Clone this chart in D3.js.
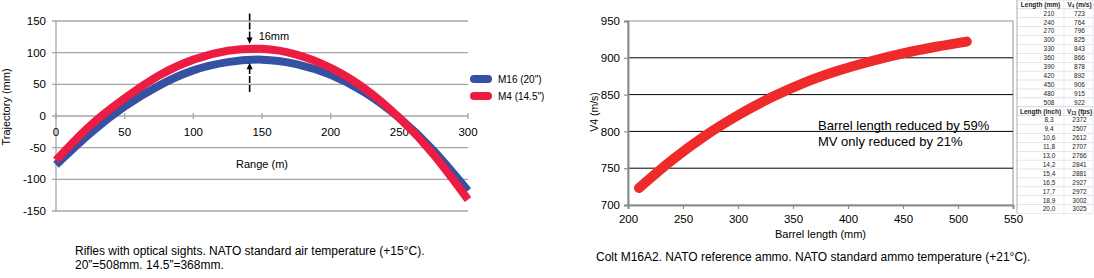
<!DOCTYPE html>
<html>
<head>
<meta charset="utf-8">
<script src="https://cdn.jsdelivr.net/npm/d3@7"></script>
<style>
  body { margin: 0; background: #fff; }
  svg { font-family: Arial, "Liberation Sans", sans-serif; display: block; }
</style>
</head>
<body>
<div id="chart"></div>
<script>
// trajectory data (left chart)
const rangeM = [0, 25, 50, 75, 100, 125, 150, 175, 200, 225, 250, 275, 300];
const m16Traj = [-77, -27, 15, 48, 72, 85, 89, 82, 65, 37, -3, -55, -118];
const m4Traj = [-70, -15, 28, 64, 89, 103, 106, 97, 76, 43, -3, -61, -132];
const trajTicksY = [150, 100, 50, 0, -50, -100, -150];
const trajTicksX = [0, 50, 100, 150, 200, 250, 300];
const seriesNames = ['M16 (20")', 'M4 (14.5")'];

// muzzle velocity table (right side)
const barrelMm = [210, 240, 270, 300, 330, 360, 390, 420, 450, 480, 508];
const v4 = [723, 764, 796, 825, 843, 866, 878, 892, 906, 915, 922];
const barrelInch = ['8,3', '9,4', '10,6', '11,8', '13,0', '14,2', '15,4', '16,5', '17,7', '18,9', '20,0'];
const v13fps = [2372, 2507, 2612, 2707, 2766, 2841, 2881, 2927, 2972, 3002, 3025];
// the plotted (smoothed) velocity curve
const curveV4 = [723, 761, 794, 822, 846, 866, 882, 895, 906, 915, 922];
const velTicksY = [950, 900, 850, 800, 750, 700];
const velTicksX = [200, 250, 300, 350, 400, 450, 500, 550];

const W = 1094, H = 278;
const svg = d3.select('#chart').append('svg')
	.attr('width', W)
	.attr('height', H);

const blue = '#3451a3';
const red = '#ed1c42';

// ---------- left chart ----------
const xL = d3.scaleLinear().domain([0, 300]).range([56, 468]);
const yL = d3.scaleLinear().domain([-150, 150]).range([211, 21]);

const left = svg.append('g');

left.selectAll('.gridL')
	.data(trajTicksY)
	.enter().append('line')
	.attr('x1', 52).attr('x2', xL(300))
	.attr('y1', d => yL(d)).attr('y2', d => yL(d))
	.style('stroke', '#a6a6a6')
	.style('stroke-width', 1.3);

left.append('line')
	.attr('x1', xL(0)).attr('x2', xL(0))
	.attr('y1', yL(150)).attr('y2', yL(-150))
	.style('stroke', '#a6a6a6')
	.style('stroke-width', 1.3);

left.selectAll('.tickL')
	.data(trajTicksX)
	.enter().append('line')
	.attr('x1', d => xL(d)).attr('x2', d => xL(d))
	.attr('y1', yL(0) - 3).attr('y2', yL(0) + 3)
	.style('stroke', '#a6a6a6')
	.style('stroke-width', 1.3);

left.selectAll('.ylab')
	.data(trajTicksY)
	.enter().append('text')
	.attr('x', 46)
	.attr('y', d => yL(d) + 4)
	.attr('text-anchor', 'end')
	.style('font-size', '11.5px')
	.text(d => d);

left.selectAll('.xlab')
	.data(trajTicksX)
	.enter().append('text')
	.attr('x', d => xL(d))
	.attr('y', 136)
	.attr('text-anchor', 'middle')
	.style('font-size', '11.5px')
	.text(d => d);

left.append('text')
	.attr('x', xL(150))
	.attr('y', 168)
	.attr('text-anchor', 'middle')
	.style('font-size', '11px')
	.text('Range (m)');

left.append('text')
	.attr('transform', 'translate(10,107) rotate(-90)')
	.attr('text-anchor', 'middle')
	.style('font-size', '11px')
	.text('Trajectory (mm)');

const lineL = d3.line()
	.x(d => xL(d[0]))
	.y(d => yL(d[1]))
	.curve(d3.curveNatural);

[[m16Traj, blue], [m4Traj, red]].forEach(([vals, col]) => {
	left.append('path')
		.attr('d', lineL(rangeM.map((r, i) => [r, vals[i]])))
		.style('fill', 'none')
		.style('stroke', col)
		.style('stroke-width', 8);
});

// 16mm annotation
const arrowX = xL(141);
left.append('line')
	.attr('x1', arrowX).attr('x2', arrowX)
	.attr('y1', yL(162)).attr('y2', yL(123))
	.style('stroke', '#000').style('stroke-width', 1.6)
	.style('stroke-dasharray', '7 2');
left.append('path')
	.attr('d', `M${arrowX - 3},${yL(124)} L${arrowX + 3},${yL(124)} L${arrowX},${yL(114)} Z`)
	.style('fill', '#000');
left.append('line')
	.attr('x1', arrowX).attr('x2', arrowX)
	.attr('y1', yL(38)).attr('y2', yL(75))
	.style('stroke', '#000').style('stroke-width', 1.6)
	.style('stroke-dasharray', '7 2');
left.append('path')
	.attr('d', `M${arrowX - 3},${yL(74)} L${arrowX + 3},${yL(74)} L${arrowX},${yL(84)} Z`)
	.style('fill', '#000');
left.append('text')
	.attr('x', arrowX + 9)
	.attr('y', 40)
	.style('font-size', '11px')
	.text('16mm');

// legend
const legend = left.selectAll('.legend')
	.data(seriesNames)
	.enter().append('g')
	.attr('transform', (d, i) => `translate(474,${79 + i * 17})`);
legend.append('line')
	.attr('x1', 0).attr('x2', 14)
	.style('stroke', (d, i) => i ? red : blue)
	.style('stroke-width', 8)
	.style('stroke-linecap', 'round');
legend.append('text')
	.attr('x', 24)
	.attr('y', 4)
	.style('font-size', '10px')
	.text(d => d);

left.append('text')
	.attr('x', 75).attr('y', 255)
	.style('font-size', '12px')
	.text('Rifles with optical sights. NATO standard air temperature (+15°C).');
left.append('text')
	.attr('x', 75).attr('y', 269)
	.style('font-size', '12px')
	.text('20”=508mm. 14.5”=368mm.');

// ---------- right chart ----------
const xR = d3.scaleLinear().domain([200, 550]).range([628, 1013]);
const yR = d3.scaleLinear().domain([700, 950]).range([205, 21]);
const right = svg.append('g');

right.append('rect')
	.attr('x', xR(200)).attr('y', yR(950))
	.attr('width', xR(550) - xR(200))
	.attr('height', yR(700) - yR(950))
	.style('fill', 'none')
	.style('stroke', '#b8b8b8')
	.style('stroke-width', 1.5);

right.selectAll('.gridR')
	.data(velTicksY.filter(d => d > 700 && d < 950))
	.enter().append('line')
	.attr('x1', xR(200)).attr('x2', xR(550))
	.attr('y1', d => yR(d)).attr('y2', d => yR(d))
	.style('stroke', '#000')
	.style('stroke-width', 1);

const axisY = right.append('g')
	.attr('transform', `translate(${xR(200)},0)`)
	.call(d3.axisLeft(yR).tickValues(velTicksY).tickSize(4).tickPadding(4));
const axisX = right.append('g')
	.attr('transform', `translate(0,${yR(700)})`)
	.call(d3.axisBottom(xR).tickValues(velTicksX).tickSize(4).tickPadding(6));
[axisY, axisX].forEach(a => {
	a.select('.domain').style('stroke', '#8c8c8c').style('stroke-width', 2);
	a.selectAll('.tick line').style('stroke', '#8c8c8c').style('stroke-width', 1.2);
	a.selectAll('text')
		.style('font-family', 'Arial, "Liberation Sans", sans-serif')
		.style('font-size', '11.5px')
		.style('fill', '#000');
});

right.append('text')
	.attr('x', (xR(200) + xR(550)) / 2)
	.attr('y', 238)
	.attr('text-anchor', 'middle')
	.style('font-size', '11px')
	.text('Barrel length (mm)');

right.append('text')
	.attr('transform', 'translate(598,112) rotate(-90)')
	.attr('text-anchor', 'middle')
	.style('font-size', '10.5px')
	.text('V4 (m/s)');

const lineR = d3.line()
	.x(d => xR(d[0]))
	.y(d => yR(d[1]))
	.curve(d3.curveMonotoneX);

right.append('path')
	.attr('d', lineR(barrelMm.map((b, i) => [b, curveV4[i]])))
	.style('fill', 'none')
	.style('stroke', '#ee2a2a')
	.style('stroke-width', 10)
	.style('stroke-linecap', 'round')
	.style('stroke-linejoin', 'round');

right.append('text')
	.attr('x', 818).attr('y', 130)
	.style('font-size', '13px')
	.text('Barrel length reduced by 59%');
right.append('text')
	.attr('x', 818).attr('y', 146)
	.style('font-size', '13px')
	.text('MV only reduced by 21%');

right.append('text')
	.attr('x', 596).attr('y', 261)
	.style('font-size', '12px')
	.text('Colt M16A2. NATO reference ammo. NATO standard ammo temperature (+21°C).');

// ---------- data table ----------
const rowH = 8.9;
const tX0 = 1017, tX1 = 1064, tX2 = 1093;
const rows = [];
rows.push({ a: 'Length (mm)', b: ['V', '4', ' (m/s)'], head: true });
barrelMm.forEach((d, i) => rows.push({ a: d, b: v4[i] }));
rows.push({ a: 'Length (inch)', b: ['V', '13', ' (fps)'], head: true });
barrelInch.forEach((d, i) => rows.push({ a: d, b: v13fps[i] }));

const table = svg.append('g');
table.selectAll('.row')
	.data(rows)
	.enter().append('rect')
	.attr('x', tX0).attr('y', (d, i) => i * rowH)
	.attr('width', tX2 - tX0).attr('height', rowH)
	.style('fill', '#fff')
	.style('stroke', d => d.head ? '#c8c8c8' : '#d6dcea')
	.style('stroke-width', 0.6);
table.append('line')
	.attr('x1', tX1).attr('x2', tX1)
	.attr('y1', 0).attr('y2', rows.length * rowH)
	.style('stroke', '#d6dcea').style('stroke-width', 0.6);
table.append('line')
	.attr('x1', tX0).attr('x2', tX0)
	.attr('y1', 0).attr('y2', rows.length * rowH)
	.style('stroke', '#aaa').style('stroke-width', 0.8);

const cells = table.selectAll('.cell')
	.data(rows)
	.enter().append('g')
	.attr('transform', (d, i) => `translate(0,${i * rowH + rowH / 2 + 2.3})`);
cells.append('text')
	.attr('x', d => d.head ? (tX0 + tX1) / 2 : 1049)
	.attr('text-anchor', 'middle')
	.style('font-size', '6.5px')
	.style('font-weight', d => d.head ? 'bold' : 'normal')
	.style('fill', '#222')
	.text(d => d.a);
const colB = cells.append('text')
	.attr('x', (tX1 + tX2) / 2 + 1)
	.attr('text-anchor', 'middle')
	.style('font-size', '6.5px')
	.style('font-weight', d => d.head ? 'bold' : 'normal')
	.style('fill', '#222');
colB.filter(d => !d.head).text(d => d.b);
colB.filter(d => d.head).each(function (d) {
	const t = d3.select(this);
	t.append('tspan').text(d.b[0]);
	t.append('tspan').attr('dy', 1.5).style('font-size', '4.5px').text(d.b[1]);
	t.append('tspan').attr('dy', -1.5).text(d.b[2]);
});
</script>
</body>
</html>
